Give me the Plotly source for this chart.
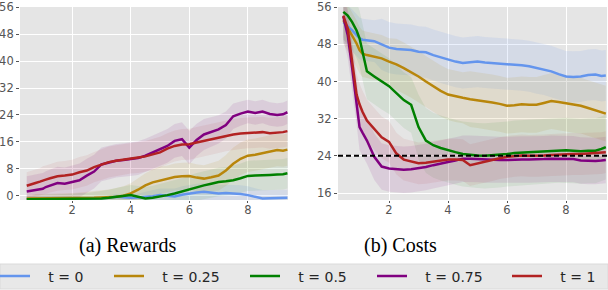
import plotly.graph_objects as go

W, H = 608, 290

steps = [0.45, 0.6, 0.75, 0.9, 1.0, 1.1, 1.25, 1.5, 1.75, 2.0, 2.25, 2.5, 2.75, 3.0, 3.25, 3.5, 3.75, 4.0,
         4.25, 4.5, 4.75, 5.0, 5.25, 5.5, 5.75, 6.0, 6.25, 6.5, 6.75, 7.0, 7.25, 7.5, 7.75, 8.0, 8.25, 8.5,
         8.75, 9.0, 9.2, 9.35]

labels = ["t = 0", "t = 0.25", "t = 0.5", "t = 0.75", "t = 1"]
colors = ["#6495ED", "#B8860B", "#008000", "#800080", "#B22222"]
fills = ["rgba(100,149,237,0.13)", "rgba(184,134,11,0.11)", "rgba(0,128,0,0.08)",
         "rgba(128,0,128,0.10)", "rgba(178,34,34,0.08)"]

# (a) Rewards
rew_t0 = [-1.1, -1.1, -1.0, -1.1, -1.0, -1.1, -1.0, -1.0, -1.1, -1.0, -1.0, -0.9, -0.8, -0.8, -0.6, -0.3, -0.5, -0.6,
          -0.5, -0.4, -0.1, 0.2, 0.0, -0.2, 0.3, 0.7, 1.0, 1.2, 1.0, 0.7, 0.8, 0.7, 0.5, 0.2, -0.3, -0.8, -0.7, -0.6, -0.7, -0.6]
rew_t025 = [-0.8, -0.8, -0.7, -0.8, -0.8, -0.7, -0.8, -0.8, -0.7, -0.8, -0.7, -0.6, -0.6, -0.5, -0.5, -0.3, 0.0, 0.7,
            1.8, 3.1, 4.0, 4.6, 5.0, 5.6, 5.8, 5.9, 5.4, 5.1, 5.5, 6.0, 7.5, 9.5, 11.0, 11.9, 12.2, 12.6, 13.1, 13.6, 13.4, 13.7]
rew_t05 = [-1.0, -1.0, -0.9, -1.0, -1.0, -0.9, -1.0, -1.0, -0.9, -1.0, -0.9, -1.0, -0.9, -0.8, -0.6, -0.3, 0.0, 0.2,
           -0.3, -0.8, -0.6, -0.3, 0.2, 0.7, 1.3, 2.1, 2.6, 3.1, 3.6, 4.1, 4.3, 4.6, 5.2, 5.9, 6.0, 6.0, 6.2, 6.3, 6.4, 6.7]
rew_t075 = [1.3, 1.5, 1.8, 2.0, 2.1, 2.6, 3.0, 3.8, 3.6, 4.1, 4.6, 6.0, 7.2, 9.3, 9.8, 10.4, 10.6, 10.9, 11.2, 11.9,
            12.9, 13.9, 14.8, 16.3, 16.8, 14.3, 16.6, 18.2, 19.0, 19.7, 21.0, 23.6, 24.4, 25.0, 24.6, 25.0, 24.3, 24.0, 24.2, 24.8]
rew_t1 = [3.0, 3.3, 3.8, 4.2, 4.6, 4.8, 5.2, 5.8, 6.0, 6.3, 7.0, 7.5, 8.5, 9.3, 10.0, 10.4, 10.8, 11.2, 11.4, 11.7,
          12.2, 12.9, 14.0, 14.8, 15.2, 15.3, 15.8, 16.3, 16.8, 17.3, 17.8, 18.2, 18.5, 18.7, 18.9, 18.9, 18.6, 18.7, 18.9, 19.2]

rew_sd_t0 = [0.8] * 18 + [1.2, 1.5, 1.8, 2.0, 2.2, 2.4, 2.5, 2.6, 2.6, 2.6, 2.5, 2.5, 2.5, 2.6, 2.6, 2.6, 2.5, 2.5, 2.4, 2.4, 2.4, 2.4]
rew_sd_t025 = [1.0, 1.0, 1.2, 1.2, 1.3, 1.3, 1.4, 1.5, 1.5, 1.6, 1.7, 1.8, 2.0, 2.2, 2.4, 2.6, 2.8, 3.0, 3.3, 3.6,
               3.8, 4.0, 4.0, 4.0, 4.0, 4.0, 4.0, 4.0, 4.2, 4.4, 4.6, 4.8, 4.8, 4.8, 4.8, 4.8, 4.8, 4.8, 4.8, 4.8]
rew_sd_t05 = [1.0, 1.0, 1.2, 1.2, 1.3, 1.3, 1.4, 1.5, 1.5, 1.6, 1.7, 1.8, 2.0, 2.2, 2.4, 2.6, 2.8, 3.0, 3.2, 3.4,
              3.6, 3.8, 4.0, 4.0, 4.0, 4.0, 4.2, 4.2, 4.2, 4.2, 4.2, 4.4, 4.4, 4.5, 4.5, 4.5, 4.5, 4.5, 4.5, 4.5]
rew_sd_t075 = [4.5, 4.5, 4.6, 4.6, 4.7, 4.7, 4.8, 4.8, 4.8, 4.9, 5.0, 5.0, 5.0, 5.0, 5.0, 5.0, 5.0, 5.0, 5.0, 5.0,
               5.0, 5.0, 5.0, 5.0, 5.0, 5.0, 4.8, 4.6, 4.4, 4.2, 4.0, 3.8, 3.6, 3.5, 3.5, 3.5, 3.5, 3.5, 3.5, 3.5]
rew_sd_t1 = [4.0, 4.0, 4.0, 4.0, 4.2, 4.2, 4.2, 4.3, 4.3, 4.4, 4.5, 4.5, 4.5, 4.6, 4.6, 4.6, 4.6, 4.6, 4.6, 4.6,
             4.6, 4.6, 4.6, 4.6, 4.6, 4.6, 4.6, 4.6, 4.6, 4.6, 4.6, 4.6, 4.6, 4.6, 4.6, 4.6, 4.6, 4.6, 4.6, 4.6]

# (b) Costs
cost_t0 = [52.8, 52.0, 51.0, 50.0, 49.3, 49.0, 48.9, 48.7, 48.0, 47.3, 47.0, 46.9, 46.8, 46.4, 46.3, 45.7, 45.2, 44.7,
           44.3, 44.0, 44.2, 44.3, 44.1, 44.0, 43.9, 43.8, 43.6, 43.5, 43.3, 42.9, 42.6, 42.2, 41.6, 41.1, 41.0, 41.1,
           41.4, 41.5, 41.2, 41.3]
cost_t025 = [53.2, 51.5, 50.0, 48.2, 46.8, 46.0, 45.7, 45.4, 45.0, 44.3, 43.7, 42.9, 42.0, 41.1, 40.0, 39.0, 38.0, 37.2,
             36.8, 36.5, 36.2, 36.0, 35.7, 35.5, 35.2, 34.8, 34.9, 35.1, 35.0, 35.0, 35.4, 35.8, 35.6, 35.3, 35.0, 34.8,
             34.3, 33.8, 33.4, 33.1]
cost_t05 = [55.0, 54.2, 52.8, 51.0, 49.3, 46.4, 42.2, 41.1, 40.0, 39.0, 37.5, 36.0, 35.0, 30.2, 27.3, 26.3, 25.7, 25.2,
            24.8, 24.4, 24.2, 24.1, 24.0, 24.1, 24.2, 24.4, 24.6, 24.7, 24.8, 24.9, 25.0, 25.1, 25.2, 25.2, 25.1, 25.0,
            25.1, 25.1, 25.5, 25.9]
cost_t075 = [54.0, 50.0, 42.9, 35.8, 30.2, 29.0, 27.3, 23.8, 21.7, 21.3, 21.2, 21.0, 21.1, 21.3, 21.6, 22.0, 22.4, 22.7,
             23.0, 23.4, 23.4, 23.3, 23.2, 23.2, 23.1, 23.1, 23.2, 23.2, 23.2, 23.2, 23.3, 23.4, 23.4, 23.4, 23.3, 23.0,
             22.9, 22.9, 23.0, 23.1]
cost_t1 = [54.2, 51.4, 44.3, 37.2, 35.1, 33.5, 31.6, 29.8, 28.0, 27.0, 24.5, 23.2, 22.8, 22.4, 22.5, 22.7, 23.0, 23.2,
           23.2, 23.1, 22.0, 22.4, 22.8, 23.1, 23.5, 23.8, 24.0, 24.1, 24.0, 24.0, 24.1, 24.2, 24.3, 24.3, 24.4, 24.4,
           24.5, 24.5, 24.6, 24.8]

cost_sd_t0 = [4.5] * 8 + [5.5] * 12 + [5.5] * 20
cost_sd_t025 = [5.0] * 10 + [5.5] * 10 + [6.0] * 20
cost_sd_t05 = [6.0] * 13 + [7.0] * 27
cost_sd_t075 = [5.0] * 40
cost_sd_t1 = [4.5] * 40

threshold = 24

rewards = [rew_t0, rew_t025, rew_t05, rew_t075, rew_t1]
rewards_sd = [rew_sd_t0, rew_sd_t025, rew_sd_t05, rew_sd_t075, rew_sd_t1]
costs = [cost_t0, cost_t025, cost_t05, cost_t075, cost_t1]
costs_sd = [cost_sd_t0, cost_sd_t025, cost_sd_t05, cost_sd_t075, cost_sd_t1]

fig = go.Figure()

def add_panel(means, sds, xa, ya, show):
    for m, s, fc in zip(means, sds, fills):
        up = [a + b for a, b in zip(m, s)]
        lo = [a - b for a, b in zip(m, s)]
        fig.add_trace(go.Scatter(x=steps + steps[::-1], y=up + lo[::-1], fill="toself", fillcolor=fc,
                                 line=dict(width=0), mode="lines", hoverinfo="skip", showlegend=False,
                                 xaxis=xa, yaxis=ya))
    for i, (m, c) in enumerate(zip(means, colors)):
        fig.add_trace(go.Scatter(x=steps, y=m, mode="lines", line=dict(color=c, width=2.5),
                                 name="\u00a0\u00a0\u00a0" + labels[i], showlegend=show,
                                 legend=("legend" if i == 0 else "legend%d" % (i + 1)),
                                 xaxis=xa, yaxis=ya))

add_panel(rewards, rewards_sd, "x", "y", True)
add_panel(costs, costs_sd, "x2", "y2", False)

def px(v):
    return v / W

def py(v):
    return 1 - v / H

axis_common = dict(showgrid=True, gridcolor="white", gridwidth=1, zeroline=False, ticks="outside",
                   tickcolor="#555555", tickfont=dict(family="DejaVu Sans", size=11.5, color="#555555"),
                   showline=False, ticklabeloverflow="allow", automargin=False)
xax = dict(ticklen=2, ticklabelstandoff=-3, **axis_common)
yax = dict(ticklen=3, **axis_common)

fig.update_layout(
    width=W, height=H, margin=dict(l=0, r=0, t=0, b=0, autoexpand=False),
    paper_bgcolor="white", plot_bgcolor="#E5E5E5",
    xaxis=dict(domain=[px(20), px(288)], range=[0.22, 9.37], tickvals=[2, 4, 6, 8], anchor="y", **xax),
    yaxis=dict(domain=[py(200), py(7)], range=[-1.25, 56.05], tickvals=[0, 8, 16, 24, 32, 40, 48, 56], anchor="x",
               **yax),
    xaxis2=dict(domain=[px(338), px(607)], range=[0.27, 9.39], tickvals=[2, 4, 6, 8], anchor="y2", **xax),
    yaxis2=dict(domain=[py(200), py(7)], range=[14.5, 56.05], tickvals=[16, 24, 32, 40, 48, 56], anchor="x2",
                **yax),
    showlegend=True,
)

fig.add_shape(type="line", xref="x2 domain", yref="y2", x0=0, x1=1, y0=threshold, y1=threshold,
              line=dict(color="black", width=2, dash="5px,3px"))

# legend background strip
fig.add_shape(type="rect", xref="paper", yref="paper", x0=0, x1=1, y0=py(289), y1=py(264),
              fillcolor="#E8E8E8", line=dict(color="#DADADA", width=1), layer="below")

leg_x = [-5, 109, 245, 372, 507]
for i, lx in enumerate(leg_x):
    key = "legend" if i == 0 else "legend%d" % (i + 1)
    fig.layout[key] = dict(x=px(lx), y=py(276.5), xanchor="left", yanchor="middle", orientation="h",
                           bgcolor="rgba(0,0,0,0)", borderwidth=0,
                           font=dict(family="DejaVu Sans", size=14, color="#262626"))

fig.add_annotation(text="(a) Rewards", xref="paper", yref="paper", x=px(127), y=py(245), showarrow=False,
                   xanchor="center", yanchor="middle", font=dict(family="Liberation Serif", size=20, color="black"))
fig.add_annotation(text="(b) Costs", xref="paper", yref="paper", x=px(400), y=py(245), showarrow=False,
                   xanchor="center", yanchor="middle", font=dict(family="Liberation Serif", size=20, color="black"))

fig.write_html("out.html", config={"displayModeBar": False},
               post_script="document.body.style.margin='0';document.body.style.overflow='hidden';")
